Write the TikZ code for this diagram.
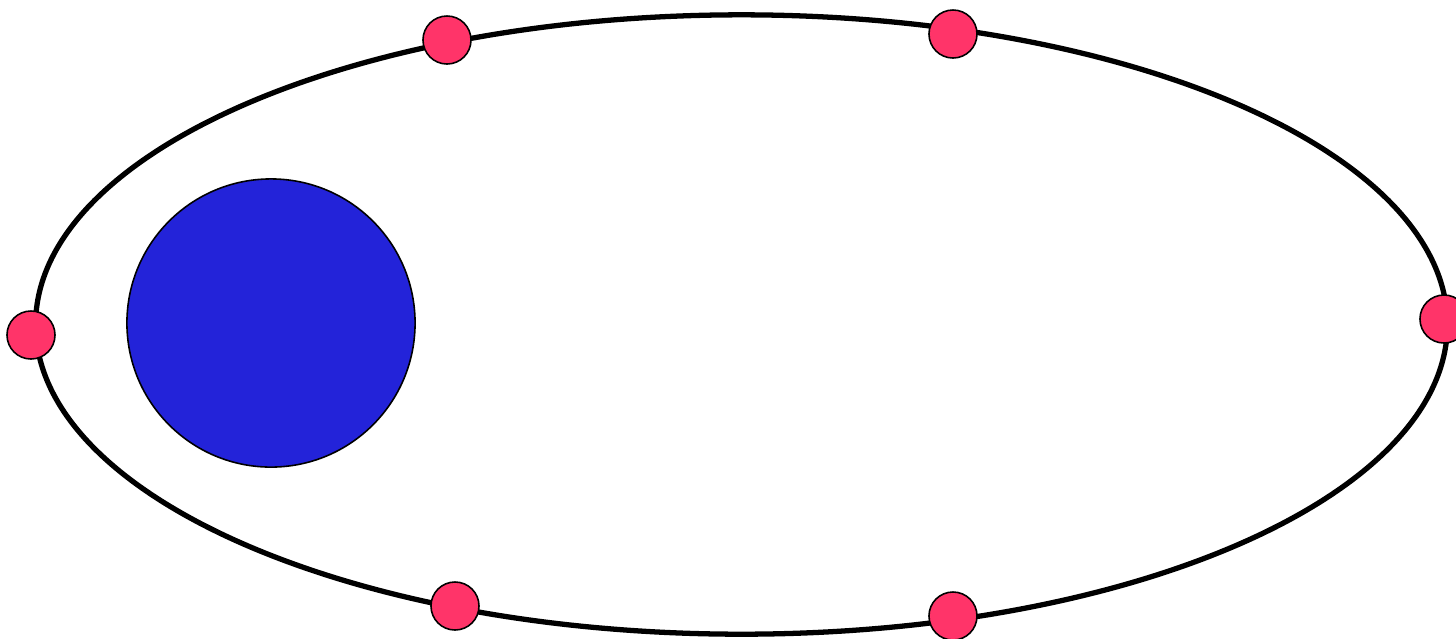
\documentclass[tikz,border=0pt]{standalone}
\usepackage{tikz}
\usetikzlibrary{positioning}
\definecolor{sunblue}{RGB}{35,35,217}
\definecolor{planet}{RGB}{255,52,105}

\begin{document}
\begin{tikzpicture}[
    x=0.01cm, y=-0.01cm,
    orbit/.style={draw=black, line width=1.5pt},
    sun/.style={circle, fill=sunblue, draw=black, line width=0.45pt, minimum size=2.88cm, inner sep=0pt},
    body/.style={circle, fill=planet, draw=black, line width=0.45pt, minimum size=0.48cm, inner sep=0pt},
]
\useasboundingbox (0,0) rectangle (1456,638);

% Orbit
\draw[orbit] (741.5,324.5) ellipse [x radius=7.055cm, y radius=3.095cm];

% Sun
\node[sun] (star) at (271,323) {};

% Planet positions
\node[body] (p1) at (447,40) {};
\node[body] (p2) at (953,34) {};
\node[body] (p3) at (31,335) {};
\node[body] (p4) at (1444,319) {};
\node[body] (p5) at (455,606) {};
\node[body] (p6) at (953,616) {};

\end{tikzpicture}
\end{document}
